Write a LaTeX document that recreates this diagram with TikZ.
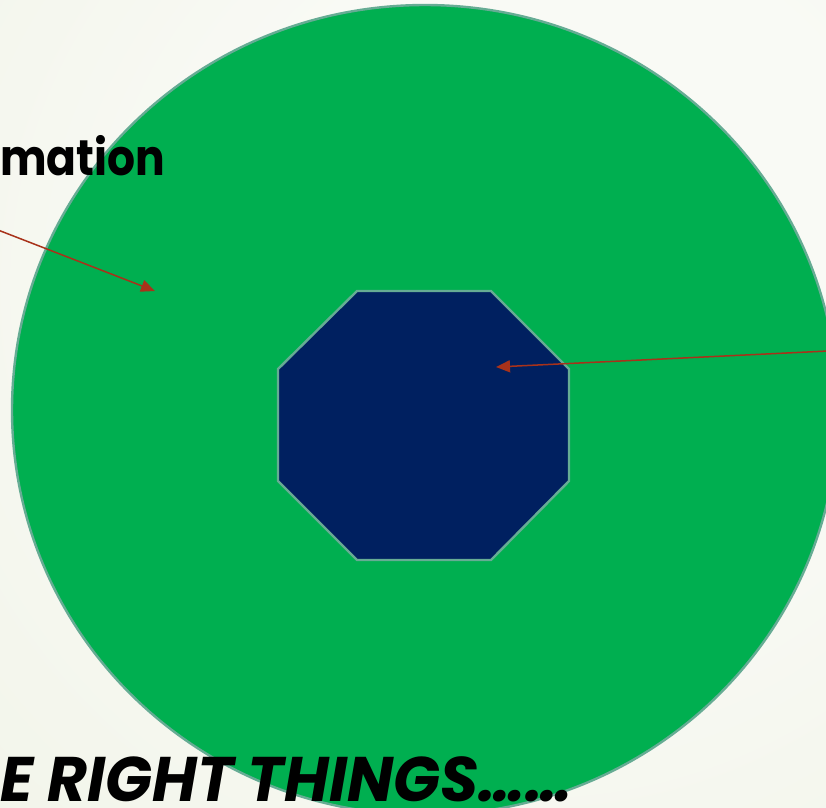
\documentclass[tikz,border=0pt]{standalone}
\usepackage{fontspec}
\setmainfont{Poppins}
\usetikzlibrary{arrows.meta}
\definecolor{bgin}{HTML}{F9FAF5}
\definecolor{bgout}{HTML}{EDF1E2}
\definecolor{disk}{HTML}{00AF50}
\definecolor{navy}{HTML}{002060}
\definecolor{rim}{HTML}{66AC94}
\definecolor{arrowred}{HTML}{A8321A}
\pgfdeclareradialshading{bgshade}{\pgfpoint{12bp}{12bp}}{color(0bp)=(bgin); color(20bp)=(bgin); color(62bp)=(bgout); color(80bp)=(bgout)}
\tikzset{
  shapeline/.style={draw=rim, line width=2.4pt},
  pointer/.style={draw=arrowred, line width=1.5pt, -{Triangle[length=14pt,width=12pt]}},
  titletext/.style={font=\fontsize{50}{56}\selectfont\bfseries, inner sep=0pt, anchor=base west, xscale=0.88},
  bottomtext/.style={font=\fontsize{63}{70}\selectfont\bfseries\itshape, inner sep=0pt, anchor=base west, xscale=0.975},
}
\begin{document}
\begin{tikzpicture}[x=1pt,y=-1pt]
\useasboundingbox (0,0) rectangle (826,807);
\shade[shading=bgshade] (0,0) rectangle (826,807);
\begin{scope}
  \clip (0,0) rectangle (826,807);
  \filldraw[fill=disk, shapeline] (425,410) ellipse [x radius=413, y radius=405];
  \filldraw[fill=navy, shapeline] (357,291) -- (491,291) -- (569,369) -- (569,481)
     -- (491,560) -- (357,560) -- (278,481) -- (278,369) -- cycle;
  \coordinate (a1s) at (-2,230);
  \coordinate (a1e) at (155,291);
  \coordinate (a2s) at (828,351);
  \coordinate (a2e) at (496,367);
  \draw[pointer] (a1s) -- (a1e);
  \draw[pointer] (a2s) -- (a2e);
  \node[titletext] (title) at (0,175) {mation};
  \node[bottomtext] (slogan) at (0,801) {E RIGHT THINGS……};
\end{scope}
\end{tikzpicture}
\end{document}
